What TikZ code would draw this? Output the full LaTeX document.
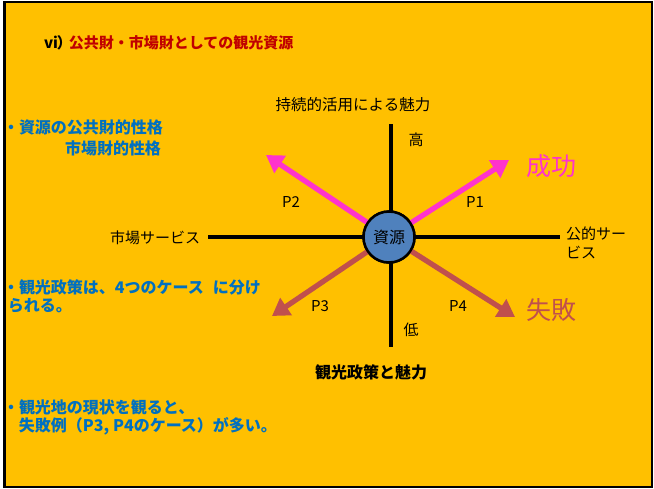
\documentclass[tikz,border=0pt]{standalone}
\usepackage{fontspec}
\setmainfont{Noto Sans CJK JP}
\usetikzlibrary{arrows.meta}
\definecolor{bgyellow}{HTML}{FFC000}
\definecolor{titlered}{HTML}{C00000}
\definecolor{noteblue}{HTML}{0070C0}
\definecolor{okpink}{HTML}{FF33CC}
\definecolor{ngred}{HTML}{C0504D}
\definecolor{resblue}{HTML}{4F81BD}
\begin{document}
\begin{tikzpicture}[x=1pt,y=-1pt,
  every node/.style={inner sep=0pt, outer sep=0pt},
  note/.style={anchor=west, text=noteblue, font=\fontsize{16}{19}\selectfont\bfseries},
  lbl/.style={font=\fontsize{15}{19}\selectfont},
  axis/.style={line width=4.5pt},
  arrowline/.style={line width=5.3pt, -{Triangle[length=17pt,width=20pt]}},
  big/.style={font=\fontsize{25}{28}\selectfont}]
\useasboundingbox (0,0) rectangle (654,488);
\fill[white] (0,0) rectangle (654,488);
\draw[line width=2.5pt, fill=bgyellow] (4.3,1.8) rectangle (652,487);

% title
\node[anchor=west, font=\fontsize{15}{18}\selectfont\bfseries] (title) at (44,43)
  {vi\kern-1pt）\kern-3pt\textcolor{titlered}{公共財・市場財としての観光資源}};

% notes
\node[note] (n1a) at (3,127) {・資源の公共財的性格};
\node[note] (n1b) at (65,148) {市場財的性格};
\node[note] (n2a) at (3,287) {・観光政策は、4つのケース\hspace{9pt}に分け};
\node[note] (n2b) at (8,306) {られる。};
\node[note] (n3a) at (3,407) {・観光地の現状を観ると、};
\node[note] (n3b) at (19,426) {失敗例（P3, P4のケース）が多い。};

% central resource node
\node[circle, draw, line width=2.5pt, fill=resblue, minimum size=51pt,
      font=\fontsize{16}{18}\selectfont] (res) at (389,237) {資源};

% axes
\coordinate (top) at (391,124);
\coordinate (bot) at (391,347);
\coordinate (lft) at (208,237);
\coordinate (rgt) at (560,237);
\draw[axis] (top) -- (res.north -| top);
\draw[axis] (res.south -| bot) -- (bot);
\draw[axis] (lft) -- (res.west);
\draw[axis] (res.east) -- (rgt);

% arrows
\coordinate (t1) at (509,160);
\coordinate (t2) at (266,155);
\coordinate (t3) at (272,316);
\coordinate (t4) at (515,317);
\draw[arrowline, okpink] (res) -- (t1);
\draw[arrowline, okpink] (res) -- (t2);
\draw[arrowline, ngred] (res) -- (t3);
\draw[arrowline, ngred] (res) -- (t4);
\node[circle, draw, line width=2.5pt, fill=resblue, minimum size=51pt,
      font=\fontsize{16}{18}\selectfont] at (res) {資源};

% labels
\node[lbl, font=\fontsize{15.5}{19}\selectfont] (ytop) at (353,105) {持続的活用による魅力};
\node[lbl] (hi) at (416,140) {高};
\node[lbl] (lo) at (411,330) {低};
\node[lbl, anchor=east] (xl) at (200,238) {市場サービス};
\node[lbl, anchor=west, align=left] (xr) at (566,242.5) {公的サー\\ビス};
\node[lbl] (p1) at (475,202) {P1};
\node[lbl] (p2) at (291,202) {P2};
\node[lbl] (p3) at (320,306) {P3};
\node[lbl] (p4) at (458,306) {P4};
\node[big, text=okpink, anchor=west] (ok) at (526,166) {成功};
\node[big, text=ngred, anchor=west] (ng) at (526,310) {失敗};
\node[font=\fontsize{16}{19}\selectfont\bfseries] (ybot) at (371,372) {観光政策と魅力};
\end{tikzpicture}
\end{document}
